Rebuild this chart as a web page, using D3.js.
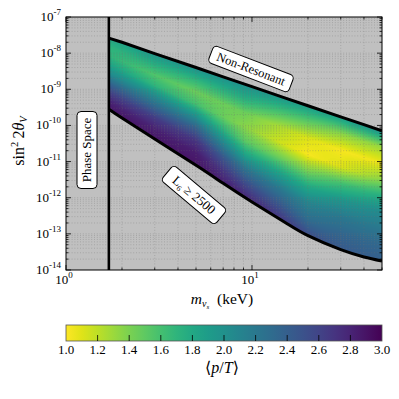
<!DOCTYPE html>
<meta charset="utf-8">
<style>
  body { margin: 0; background: #fff; }
  text { font-family: "Liberation Serif", "DejaVu Serif", serif; fill: #000; }
</style>
<script src="https://cdn.jsdelivr.net/npm/d3@7"></script>
<body>
<svg id="chart" width="399" height="399"></svg>
<script>
// boundaries of the allowed region (keV, sin^2 2theta)
var edgeMasses = [1.7, 2, 3, 5, 7, 10, 15, 20, 30, 40, 50];
var upperEdge = [2.6e-8, 2.0e-8, 9.7e-9, 4.0e-9, 2.2e-9, 1.18e-9, 5.8e-10, 3.5e-10, 1.73e-10, 1.05e-10, 7.1e-11];
var lowerEdge = [2.8e-10, 1.6e-10, 4.2e-11, 7.9e-12, 2.5e-12, 7.6e-13, 2.1e-13, 8.9e-14, 3.65e-14, 2.3e-14, 1.77e-14];
var phaseSpaceMass = 1.7;

// <p/T> read across the band: columns by mass, rows from upper edge (0) to lower edge (1)
var colMasses = [1.7, 3, 5, 9.2, 14, 20, 30, 50];
var bandStops = [0, 0.125, 0.25, 0.375, 0.5, 0.625, 0.75, 0.875, 1];
var pT_m1p7 = [1.8, 1.7, 1.7, 1.85, 2.05, 2.35, 2.6, 2.8, 2.9];
var pT_m3 = [1.95, 1.75, 1.55, 1.7, 2.05, 2.35, 2.65, 2.82, 2.9];
var pT_m5 = [2.0, 1.7, 1.45, 1.6, 2.0, 2.4, 2.7, 2.85, 2.9];
var pT_m9 = [2.0, 1.75, 1.45, 1.35, 1.5, 1.85, 2.25, 2.55, 2.8];
var pT_m14 = [1.95, 1.6, 1.25, 1.15, 1.45, 1.85, 2.2, 2.45, 2.7];
var pT_m20 = [1.9, 1.5, 1.1, 1.02, 1.4, 1.8, 2.1, 2.3, 2.55];
var pT_m30 = [1.9, 1.35, 1.02, 1.1, 1.6, 1.95, 2.2, 2.35, 2.45];
var pT_m50 = [2.0, 1.3, 1.05, 1.35, 1.75, 2.05, 2.2, 2.33, 2.4];
var pTGrid = [pT_m1p7, pT_m3, pT_m5, pT_m9, pT_m14, pT_m20, pT_m30, pT_m50];

// tick labels
var xExponents = [0, 1];
var yExponents = [-14, -13, -12, -11, -10, -9, -8, -7];
var cbTicks = [1.0, 1.2, 1.4, 1.6, 1.8, 2.0, 2.2, 2.4, 2.6, 2.8, 3.0];
</script>
<script>
var svg = d3.select("#chart");
var L = 66, R = 382, T = 17, B = 270;

var x = d3.scaleLog().domain([1, 50]).range([L, R]);
var y = d3.scaleLog().domain([1e-14, 1e-7]).range([B, T]);
var color = d3.scaleSequential(d3.interpolateViridis).domain([3, 1]);

svg.append("clipPath").attr("id", "plotclip")
  .append("rect").attr("x", L).attr("y", T).attr("width", R - L).attr("height", B - T);

svg.append("rect").attr("x", L).attr("y", T).attr("width", R - L).attr("height", B - T)
  .attr("fill", "#c0c0c0");

// heat map painted per pixel from the read grid
function paintHeat() {
  var lut = d3.range(256).map(function(i) { return d3.rgb(color(1 + 2 * i / 255)); });
  var W = R - L, H = B - T;
  var canvas = document.createElement("canvas");
  canvas.width = W; canvas.height = H;
  var ctx = canvas.getContext("2d");
  var img = ctx.createImageData(W, H);
  var logEdge = edgeMasses.map(Math.log10);
  var bandHi = d3.scaleLinear().domain(logEdge).range(upperEdge.map(Math.log10));
  var bandLo = d3.scaleLinear().domain(logEdge).range(lowerEdge.map(Math.log10));
  var logCols = colMasses.map(Math.log10);
  var rowScales = bandStops.map(function(_, j) {
    return d3.scaleLinear().domain(logCols).range(pTGrid.map(function(r) { return r[j]; })).clamp(true);
  });
  for (var px = 0; px < W; px++) {
    var lm = Math.log10(x.invert(L + px + 0.5));
    var colScale = d3.scaleLinear().domain(bandStops)
      .range(rowScales.map(function(s) { return s(lm); })).clamp(true);
    var hi = bandHi(lm), lo = bandLo(lm);
    for (var py = 0; py < H; py++) {
      var ls = Math.log10(y.invert(T + py + 0.5));
      var v = colScale((hi - ls) / (hi - lo));
      var k = Math.max(0, Math.min(255, Math.round((v - 1) / 2 * 255))) || 0;
      var c = lut[k], o = (py * W + px) * 4;
      img.data[o] = c.r; img.data[o + 1] = c.g; img.data[o + 2] = c.b; img.data[o + 3] = 255;
    }
  }
  ctx.putImageData(img, 0, 0);
  return canvas.toDataURL();
}

var band = d3.area()
  .x(function(d, i) { return x(edgeMasses[i]); })
  .y0(function(d, i) { return y(lowerEdge[i]); })
  .y1(function(d, i) { return y(upperEdge[i]); })
  .curve(d3.curveNatural);
svg.append("clipPath").attr("id", "bandclip")
  .append("path").attr("d", band(edgeMasses));

svg.append("g").attr("clip-path", "url(#plotclip)")
  .append("g").attr("clip-path", "url(#bandclip)")
  .append("image").attr("x", L).attr("y", T).attr("width", R - L).attr("height", B - T)
  .attr("preserveAspectRatio", "none")
  .attr("href", paintHeat());

// grid
var xMinor = [], yMinor = [];
[1, 10].forEach(function(b) { d3.range(1, 10).forEach(function(m) { if (b * m <= 50) xMinor.push(b * m); }); });
yExponents.forEach(function(e) {
  d3.range(1, 10).forEach(function(m) { var v = m * Math.pow(10, e); if (v <= 1e-7 * 1.0001) yMinor.push(v); });
});
var grid = svg.append("g").attr("stroke", "#707070").attr("stroke-width", 0.6)
  .attr("stroke-dasharray", "1,1.8").attr("opacity", 0.55);
grid.selectAll(".gx").data(xMinor.filter(function(v) { return v > 1 && v < 50; })).join("line")
  .attr("x1", function(d) { return x(d); }).attr("x2", function(d) { return x(d); })
  .attr("y1", T).attr("y2", B);
grid.selectAll(".gy").data(yMinor.filter(function(v) { return v > 1.0001e-14 && v < 0.9999e-7; })).join("line")
  .attr("y1", function(d) { return y(d); }).attr("y2", function(d) { return y(d); })
  .attr("x1", L).attr("x2", R);

// boundary lines
var plot = svg.append("g").attr("clip-path", "url(#plotclip)");
plot.append("path").datum(edgeMasses)
  .attr("d", d3.line().x(function(d) { return x(d); }).y(function(d, i) { return y(upperEdge[i]); }))
  .attr("fill", "none").attr("stroke", "#000").attr("stroke-width", 3);
plot.append("path").datum(edgeMasses)
  .attr("d", d3.line().x(function(d) { return x(d); }).y(function(d, i) { return y(lowerEdge[i]); }).curve(d3.curveNatural))
  .attr("fill", "none").attr("stroke", "#000").attr("stroke-width", 3);
plot.append("line").attr("x1", x(phaseSpaceMass)).attr("x2", x(phaseSpaceMass))
  .attr("y1", T).attr("y2", B).attr("stroke", "#000").attr("stroke-width", 2.6);

// ticks (inside, all sides)
var tk = svg.append("g").attr("stroke", "#000").attr("stroke-width", 0.8);
xMinor.forEach(function(v) {
  var len = (v === 1 || v === 10) ? 5 : 2.5;
  tk.append("line").attr("x1", x(v)).attr("x2", x(v)).attr("y1", B).attr("y2", B - len);
  tk.append("line").attr("x1", x(v)).attr("x2", x(v)).attr("y1", T).attr("y2", T + len);
});
yMinor.forEach(function(v) {
  var major = Math.abs(Math.log10(v) - Math.round(Math.log10(v))) < 1e-6;
  var len = major ? 5 : 2.5;
  tk.append("line").attr("y1", y(v)).attr("y2", y(v)).attr("x1", L).attr("x2", L + len);
  tk.append("line").attr("y1", y(v)).attr("y2", y(v)).attr("x1", R).attr("x2", R - len);
});
svg.append("rect").attr("x", L).attr("y", T).attr("width", R - L).attr("height", B - T)
  .attr("fill", "none").attr("stroke", "#000").attr("stroke-width", 1);

// tick labels
yExponents.forEach(function(e) {
  var t = svg.append("text").attr("x", 61).attr("y", y(Math.pow(10, e)) + 4)
    .attr("text-anchor", "end").attr("font-size", 13);
  t.append("tspan").text("10");
  t.append("tspan").attr("dy", -6).attr("font-size", 9).text(e < 0 ? "-" + (-e) : e);
});
xExponents.forEach(function(e) {
  var t = svg.append("text").attr("x", x(Math.pow(10, e)) - 2).attr("y", 284)
    .attr("text-anchor", "middle").attr("font-size", 13);
  t.append("tspan").text("10");
  t.append("tspan").attr("dy", -6).attr("font-size", 9).text(e);
});

// axis titles
var xt = svg.append("text").attr("x", 222).attr("y", 304).attr("text-anchor", "middle").attr("font-size", 15.5);
xt.append("tspan").attr("font-style", "italic").text("m");
xt.append("tspan").attr("font-style", "italic").attr("font-size", 10).attr("dy", 3).text("ν");
xt.append("tspan").attr("font-style", "italic").attr("font-size", 7).attr("dy", 2).text("s");
xt.append("tspan").attr("dy", -5).text("\u2002(keV)");

var yt = svg.append("text").attr("transform", "translate(24,141) rotate(-90)")
  .attr("text-anchor", "middle").attr("font-size", 16);
yt.append("tspan").text("sin");
yt.append("tspan").attr("font-size", 10.5).attr("dy", -6).text("2");
yt.append("tspan").attr("dy", 6).text("\u20092");
yt.append("tspan").attr("font-style", "italic").text("θ");
yt.append("tspan").attr("font-style", "italic").attr("font-size", 10.5).attr("dy", 3).text("V");

// annotation boxes
function tag(cx, cy, ang, w, h, fs, build) {
  var g = svg.append("g").attr("transform", "translate(" + cx + "," + cy + ") rotate(" + ang + ")");
  g.append("rect").attr("x", -w / 2).attr("y", -h / 2).attr("width", w).attr("height", h)
    .attr("rx", 4).attr("fill", "#fff").attr("stroke", "#000").attr("stroke-width", 1);
  var t = g.append("text").attr("text-anchor", "middle").attr("y", fs * 0.33).attr("font-size", fs);
  build(t);
}
tag(251, 69, 21, 86, 18, 12.5, function(t) { t.text("Non-Resonant"); });
tag(87, 150, -90, 77, 20, 13, function(t) { t.text("Phase Space"); });
tag(194, 195, 40, 70, 20, 13, function(t) {
  t.append("tspan").text("L");
  t.append("tspan").attr("font-size", 8).attr("dy", 3).text("6");
  t.append("tspan").attr("dy", -3).text(" \u2265 2500");
});

// colour bar
var cx0 = 66, cx1 = 382, cy0 = 325, cy1 = 341;
var cb = d3.scaleLinear().domain([1, 3]).range([cx0, cx1]);
var grad = svg.append("defs").append("linearGradient").attr("id", "cbgrad");
d3.range(0, 1.0001, 0.05).forEach(function(f) {
  grad.append("stop").attr("offset", f).attr("stop-color", color(1 + 2 * f));
});
svg.append("rect").attr("x", cx0).attr("y", cy0).attr("width", cx1 - cx0).attr("height", cy1 - cy0)
  .attr("fill", "url(#cbgrad)").attr("stroke", "#555").attr("stroke-width", 0.8);
svg.append("g").selectAll("line").data(cbTicks.slice(1, -1)).join("line")
  .attr("x1", function(d) { return cb(d); }).attr("x2", function(d) { return cb(d); })
  .attr("y1", cy1).attr("y2", cy1 - 6).attr("stroke", "#000").attr("stroke-width", 0.8);
svg.append("g").selectAll("text").data(cbTicks).join("text")
  .attr("x", function(d) { return cb(d); }).attr("y", 354).attr("text-anchor", "middle")
  .attr("font-size", 13).text(function(d) { return d.toFixed(1); });
var cl = svg.append("text").attr("x", 222).attr("y", 373).attr("text-anchor", "middle").attr("font-size", 16);
cl.append("tspan").text("\u27e8");
cl.append("tspan").attr("font-style", "italic").text("p");
cl.append("tspan").text("/");
cl.append("tspan").attr("font-style", "italic").text("T");
cl.append("tspan").text("\u27e9");
</script>
</body>
